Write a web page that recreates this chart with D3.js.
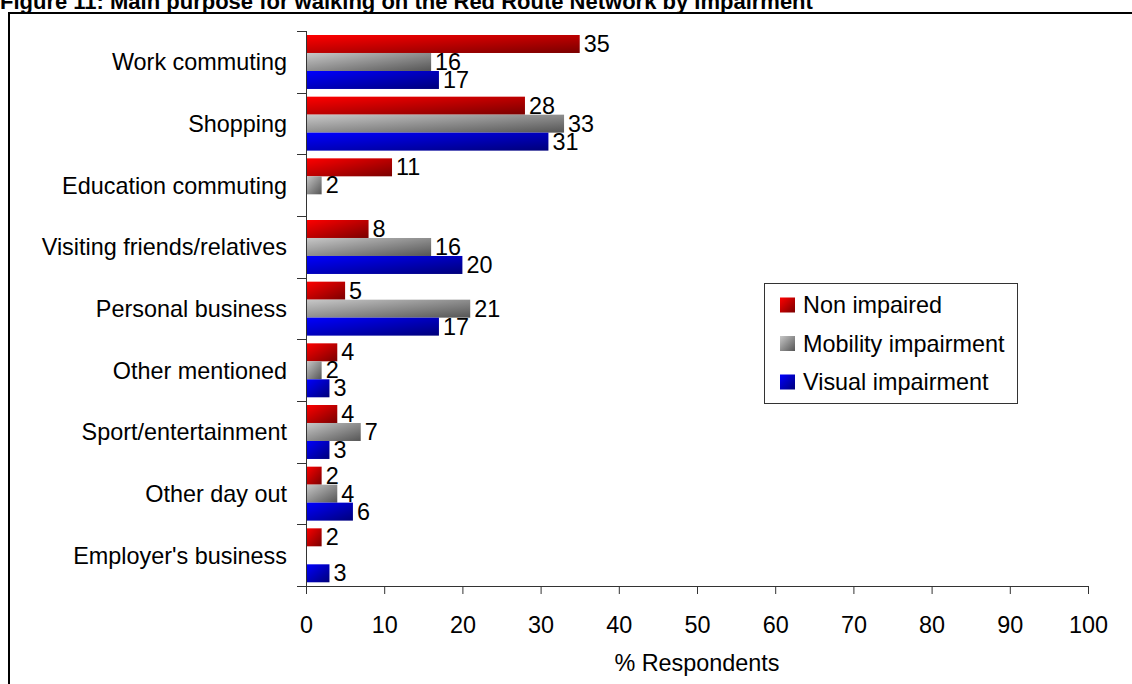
<!DOCTYPE html>
<html>
<head>
<meta charset="utf-8">
<script src="https://cdn.jsdelivr.net/npm/d3@7/dist/d3.min.js"></script>
<style>
  html, body { margin: 0; padding: 0; background: #fff; }
  svg { display: block; font-family: "Liberation Sans", Arial, sans-serif; }
</style>
</head>
<body>
<svg id="chart" width="1132" height="684"></svg>
<script>
// Purposes for walking, top to bottom
const categories = [
  "Work commuting", "Shopping", "Education commuting",
  "Visiting friends/relatives", "Personal business", "Other mentioned",
  "Sport/entertainment", "Other day out", "Employer's business"
];
const seriesNames = ["Non impaired", "Mobility impairment", "Visual impairment"];
// % respondents per purpose (null = no response in that group)
const nonImpaired = [35, 28, 11, 8, 5, 4, 4, 2, 2];
const mobilityImpairment = [16, 33, 2, 16, 21, 2, 7, 4, null];
const visualImpairment = [17, 31, null, 20, 17, 3, 3, 6, 3];
const xTicks = [0, 10, 20, 30, 40, 50, 60, 70, 80, 90, 100];

const seriesValues = [nonImpaired, mobilityImpairment, visualImpairment];
const gradStops = [
  ["#ff0000", "#7a0000"],
  ["#c8c8c8", "#555555"],
  ["#0000ff", "#00007a"]
];
const FS = 23.4;

const svg = d3.select("#chart");
const defs = svg.append("defs");
gradStops.forEach((g, i) => {
  const lg = defs.append("linearGradient")
    .attr("id", "grad" + i)
    .attr("x1", 0).attr("y1", 0).attr("x2", 1).attr("y2", 1);
  lg.append("stop").attr("offset", "0%").attr("stop-color", g[0]);
  lg.append("stop").attr("offset", "100%").attr("stop-color", g[1]);
});

// Heading
svg.append("text")
  .attr("x", 0).attr("y", 8.5)
  .attr("font-weight", "bold")
  .attr("font-size", 22)
  .attr("fill", "#000")
  .text("Figure 11: Main purpose for walking on the Red Route Network by Impairment");

// Outer frame (runs off the right and bottom edges)
svg.append("rect")
  .attr("x", 9).attr("y", 13)
  .attr("width", 1140).attr("height", 700)
  .attr("fill", "none")
  .attr("stroke", "#000")
  .attr("stroke-width", 2);

const plot = { left: 306, right: 1088, top: 31, bottom: 586 };

const x = d3.scaleLinear().domain([0, 100]).range([plot.left, plot.right]);
const y = d3.scaleBand().domain(categories).range([plot.top, plot.bottom]).paddingInner(0).paddingOuter(0);
const inner = d3.scaleBand().domain(d3.range(3)).range([4, y.bandwidth() - 3.7]);

// Bars and value labels
seriesValues.forEach((vals, si) => {
  const g = svg.append("g");
  const data = categories.map((c, i) => ({ c, v: vals[i] })).filter(d => d.v != null);
  g.selectAll("rect").data(data).join("rect")
    .attr("x", x(0))
    .attr("y", d => y(d.c) + inner(si))
    .attr("width", d => x(d.v) - x(0))
    .attr("height", inner.bandwidth())
    .attr("fill", "url(#grad" + si + ")");
  g.selectAll("text").data(data).join("text")
    .attr("x", d => x(d.v) + 4)
    .attr("y", d => y(d.c) + inner(si) + inner.bandwidth() / 2 - 0.5)
    .attr("dy", "0.36em")
    .attr("font-size", FS)
    .attr("fill", "#000")
    .text(d => d.v);
});

// X axis
const xAxis = svg.append("g")
  .attr("transform", `translate(0,${plot.bottom})`)
  .call(d3.axisBottom(x).tickValues(xTicks).tickSize(8).tickSizeOuter(0).tickPadding(22));
xAxis.select(".domain").attr("stroke", "#333").attr("d", `M${plot.left - 9},0.5H${plot.right}`);
xAxis.selectAll(".tick line").attr("stroke", "#333");
xAxis.selectAll(".tick text").attr("font-size", FS).attr("fill", "#000")
  .attr("font-family", "'Liberation Sans', Arial, sans-serif");

// Y axis with ticks on band boundaries
const yAxisG = svg.append("g");
yAxisG.append("line")
  .attr("x1", plot.left + 0.5).attr("x2", plot.left + 0.5)
  .attr("y1", plot.top).attr("y2", plot.bottom)
  .attr("stroke", "#333");
yAxisG.selectAll("line.tk").data(categories.map(c => y(c)))
  .join("line").attr("class", "tk")
  .attr("x1", plot.left - 9).attr("x2", plot.left)
  .attr("y1", d => Math.round(d) + 0.5).attr("y2", d => Math.round(d) + 0.5)
  .attr("stroke", "#333");
yAxisG.selectAll("text").data(categories).join("text")
  .attr("x", plot.left - 19)
  .attr("y", d => y(d) + y.bandwidth() / 2)
  .attr("dy", "0.36em")
  .attr("text-anchor", "end")
  .attr("font-size", FS)
  .attr("fill", "#000")
  .text(d => d);

// Axis title
svg.append("text")
  .attr("x", (plot.left + plot.right) / 2)
  .attr("y", 663).attr("dy", "0.36em")
  .attr("text-anchor", "middle")
  .attr("font-size", FS)
  .text("% Respondents");

// Legend
const legend = svg.append("g").attr("transform", "translate(764,283)");
legend.append("rect")
  .attr("x", 0.5).attr("y", 0.5)
  .attr("width", 253).attr("height", 120)
  .attr("fill", "#fff").attr("stroke", "#333");
seriesNames.forEach((name, i) => {
  const row = legend.append("g").attr("transform", `translate(16,${22 + i * 38.5})`);
  row.append("rect").attr("x", 0).attr("y", -7.5).attr("width", 15).attr("height", 15)
    .attr("fill", "url(#grad" + i + ")");
  row.append("text").attr("x", 23).attr("y", 0).attr("dy", "0.36em")
    .attr("font-size", FS).text(name);
});
</script>
</body>
</html>
